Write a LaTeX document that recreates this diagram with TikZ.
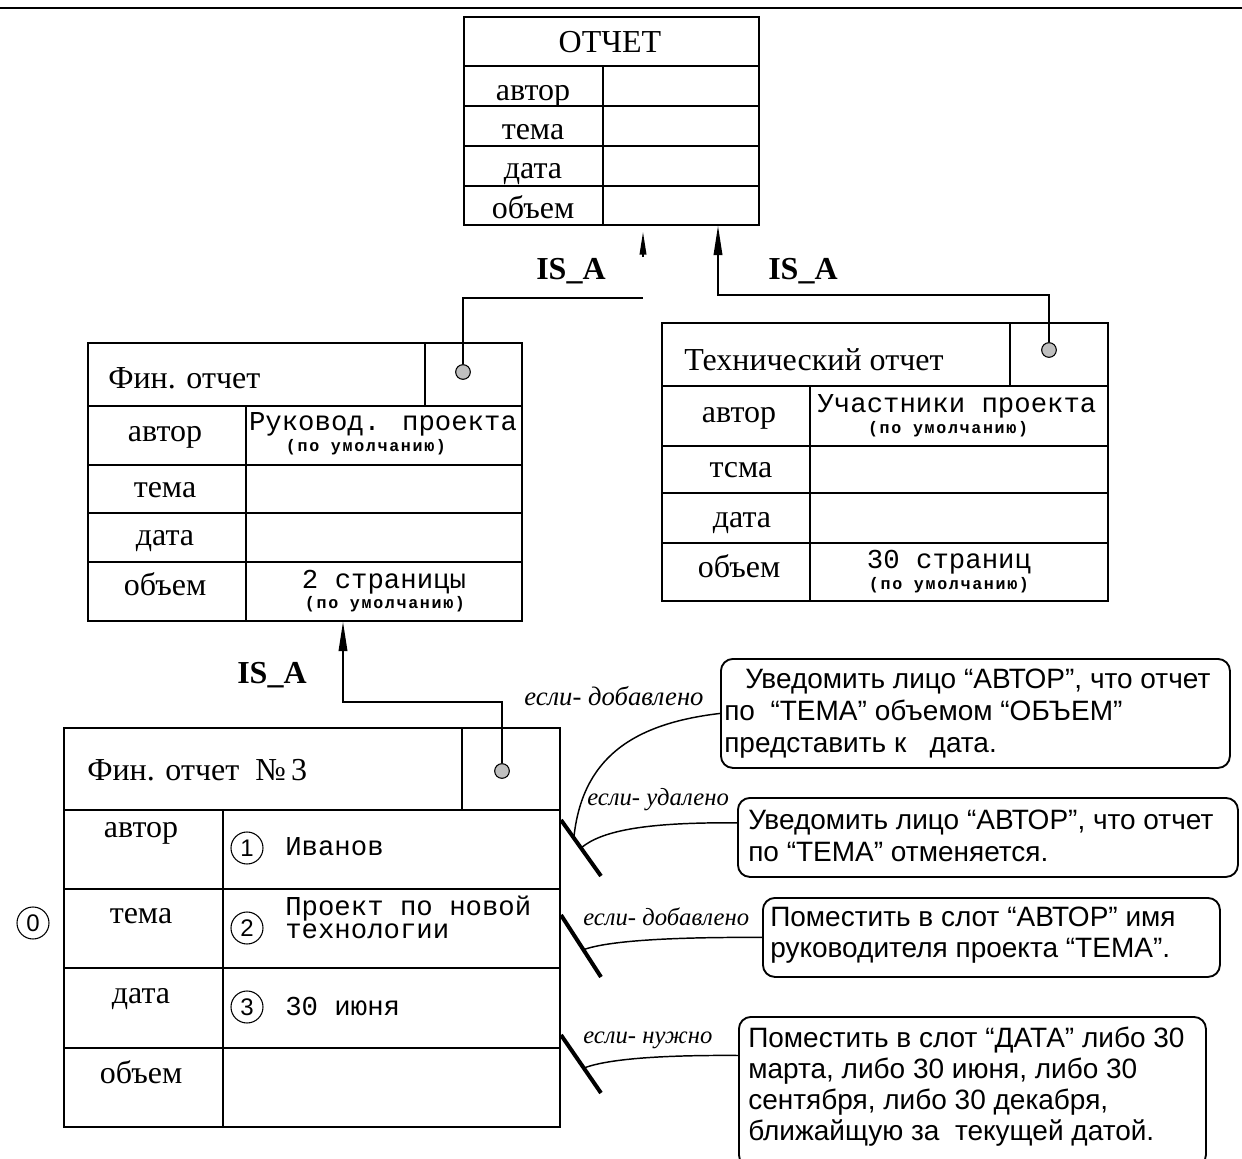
\documentclass[tikz,border=0pt]{standalone}
\usepackage{fontspec}
\setmainfont{Liberation Serif}
\newfontfamily\sansf{Liberation Sans}
\newfontfamily\monof{Liberation Mono}
\newfontfamily\smallmono[LetterSpace=10]{Liberation Mono}
\usetikzlibrary{arrows.meta,calc}
\begin{document}
\begin{tikzpicture}[x=0.75pt,y=-0.75pt,
  frame/.style={draw,line width=1.4pt,inner sep=0pt,anchor=north west},
  grid/.style={line width=1.4pt},
  conn/.style={line width=1.1pt},
  isa/.style={-{Triangle[length=22pt,width=6.5pt]}},
  slashln/.style={line width=3pt},
  ser/.style={font=\fontsize{24}{26}\selectfont,inner sep=0pt,anchor=base},
  serl/.style={font=\fontsize{24}{26}\selectfont,inner sep=0pt,anchor=base west},
  isalbl/.style={font=\bfseries\fontsize{24}{26}\selectfont,inner sep=0pt,anchor=base west},
  mono/.style={font=\monof\fontsize{20.5}{22}\selectfont,inner sep=0pt,anchor=base},
  monol/.style={font=\monof\fontsize{20.5}{17.25}\selectfont,inner sep=0pt,anchor=base west,align=left},
  small/.style={font=\smallmono\bfseries\fontsize{12.5}{13}\selectfont,inner sep=0pt,anchor=base},
  ital/.style={font=\itshape\fontsize{18.5}{20}\selectfont,inner sep=0pt,anchor=base west},
  note/.style={draw,line width=1.4pt,rounded corners=9pt,inner sep=0pt,anchor=north west},
  notetxt/.style={font=\sansf\fontsize{21}{24}\selectfont,inner sep=0pt,anchor=base west},
  num/.style={draw,circle,line width=0.8pt,minimum size=24pt,inner sep=0pt,font=\sansf\fontsize{18}{18}\selectfont},
  dot/.style={draw,circle,fill=gray!50,line width=0.8pt,minimum size=11pt,inner sep=0pt}
]
\useasboundingbox (0,0) rectangle (1242,1159);
\clip (0,0) rectangle (1242,1159);
\fill[white] (0,0) rectangle (1242,1159);
% top rule
\coordinate (topL) at (0,8);
\coordinate (topR) at (1242,8);
\draw[line width=1.6pt] (topL) -- (topR);

% ---------- ОТЧЕТ ----------
\node[frame,minimum width=221.25pt,minimum height=156pt] (otchet) at (463,16) {};
\draw[grid] (463,66) -- (758,66) (463,106) -- (758,106) (463,146) -- (758,146) (463,186) -- (758,186) (603,66) -- (603,224);
\node[ser] (o0) at (610,53) {ОТЧЕТ};
\node[ser] (o1) at (533,101) {автор};
\node[ser] (o2) at (533,140) {тема};
\node[ser] (o3) at (533,179) {дата};
\node[ser] (o4) at (533,219) {объем};

% ---------- Фин. отчет ----------
\node[frame,minimum width=325.5pt,minimum height=208.5pt] (fin) at (87,342) {};
\draw[grid] (87,406) -- (521,406) (87,465) -- (521,465) (87,513) -- (521,513) (87,562) -- (521,562) (425,342) -- (425,406) (246,406) -- (246,620);
\node[serl] (f0) at (108,388) {Фин. отчет};
\node[dot] (fdot) at (463,372) {};
\node[ser] (f1) at (165,441) {автор};
\node[ser] (f2) at (165,497) {тема};
\node[ser] (f3) at (165,545) {дата};
\node[ser] (f4) at (165,595) {объем};
\node[mono] (f1v) at (383,430) {Руковод. проекта};
\node[small] (f1d) at (366,451) {(по умолчанию)};
\node[mono] (f4v) at (384,588) {2 страницы};
\node[small] (f4d) at (385,608) {(по умолчанию)};

% ---------- Технический отчет ----------
\node[frame,minimum width=334.5pt,minimum height=208.5pt] (tech) at (661,322) {};
\draw[grid] (661,386) -- (1107,386) (661,446) -- (1107,446) (661,493) -- (1107,493) (661,543) -- (1107,543) (1010,322) -- (1010,386) (810,386) -- (810,600);
\node[serl] (t0) at (684,370) {Технический отчет};
\node[dot] (tdot) at (1049,350) {};
\node[ser] (t1) at (739,422) {автор};
\node[ser] (t2) at (741,477) {тсма};
\node[ser] (t3) at (742,527) {дата};
\node[ser] (t4) at (739,577) {объем};
\node[mono] (t1v) at (957,412) {Участники проекта};
\node[small] (t1d) at (948,433) {(по умолчанию)};
\node[mono] (t4v) at (949,568) {30 страниц};
\node[small] (t4d) at (949,589) {(по умолчанию)};

% ---------- Фин. отчет № 3 ----------
\node[frame,minimum width=372pt,minimum height=299.25pt] (fin3) at (63,727) {};
\draw[grid] (63,810) -- (559,810) (63,889) -- (559,889) (63,968) -- (559,968) (63,1048) -- (559,1048) (462,727) -- (462,810) (223,810) -- (223,1126);
\node[serl] (g0) at (87,780) {Фин. отчет\ \ №\,3};
\node[dot] (gdot) at (502,771) {};
\node[ser] (g1) at (141,837) {автор};
\node[ser] (g2) at (141,923) {тема};
\node[ser] (g3) at (141,1003) {дата};
\node[ser] (g4) at (141,1083) {объем};
\node[num] (n1) at (247,848) {1};
\node[num] (n2) at (247,928) {2};
\node[num] (n3) at (247,1007) {3};
\node[num] (n0) at (33,923) {0};
\node[monol] (g1v) at (285,855) {Иванов};
\node[monol,anchor=north west] (g2v) at (285,896) {Проект по новой\\технологии};
\node[monol] (g3v) at (285,1015) {30 июня};

% ---------- IS_A connectors ----------
\coordinate (bendL) at (463,298);
\coordinate (gapL) at (643,298);
\coordinate (stubL) at (643,257);
\coordinate (tipL) at (643,232);
\draw[conn] (fdot) -- (bendL) -- (gapL);
\draw[conn,-{Triangle[length=17pt,width=5pt]}] (stubL) -- (tipL);
\coordinate (bendR) at (718,295);
\draw[conn,isa] (tdot) |- (bendR) -- (bendR |- otchet.south);
\coordinate (bendF) at (343,702);
\draw[conn,isa] (gdot) |- (bendF) -- (bendF |- fin.south);
\node[isalbl] (isa1) at (536,279) {IS\_A};
\node[isalbl] (isa2) at (768,279) {IS\_A};
\node[isalbl] (isa3) at (237,683) {IS\_A};

% ---------- notes ----------
\node[note,minimum width=381.75pt,minimum height=81.75pt] (b1) at (720,658) {};
\node[note,minimum width=375pt,minimum height=59.25pt] (b2) at (737,797) {};
\node[note,minimum width=342.75pt,minimum height=59.25pt] (b3) at (762,897) {};
\node[note,minimum width=350.25pt,minimum height=112.5pt] (b4) at (738,1016) {};

\node[notetxt] (b1a) at (745,688) {Уведомить лицо “АВТОР”, что отчет};
\node[notetxt] (b1b) at (724,720) {по\ \ “ТЕМА” объемом “ОБЪЕМ”};
\node[notetxt] (b1c) at (724,752) {представить к\ \ \ дата.};
\node[notetxt] (b2a) at (748,829) {Уведомить лицо “АВТОР”, что отчет};
\node[notetxt] (b2b) at (748,861) {по “ТЕМА” отменяется.};
\node[notetxt] (b3a) at (770,926) {Поместить в слот “АВТОР” имя};
\node[notetxt] (b3b) at (770,957) {руководителя проекта “ТЕМА”.};
\node[notetxt] (b4a) at (748,1047) {Поместить в слот “ДАТА” либо 30};
\node[notetxt] (b4b) at (748,1078) {марта, либо 30 июня, либо 30};
\node[notetxt] (b4c) at (748,1109) {сентября, либо 30 декабря,};
\node[notetxt] (b4d) at (748,1140) {ближайщую за\ \ текущей датой.};

% ---------- slashes and demons ----------
\coordinate (s1a) at (561,820); \coordinate (s1b) at (601,876);
\coordinate (s2a) at (561,915); \coordinate (s2b) at (601,977);
\coordinate (s3a) at (561,1035); \coordinate (s3b) at (601,1093);
\draw[slashln] (s1a) -- (s1b);
\draw[slashln] (s2a) -- (s2b);
\draw[slashln] (s3a) -- (s3b);
\path (s1a) -- (s1b) coordinate[pos=0.32] (c1s) coordinate[pos=0.5] (c2s);
\path (s2a) -- (s2b) coordinate[pos=0.56] (c3s);
\path (s3a) -- (s3b) coordinate[pos=0.57] (c4s);
\coordinate (b2in) at ($(b2.north west)!0.32!(b2.south west)$);
\coordinate (b4in) at ($(b4.north west)!0.26!(b4.south west)$);
\draw[conn] (c1s) .. controls (582,760) and (630,724) .. (b1.west);
\draw[conn] (c2s) .. controls (600,832) and (640,822) .. (b2in);
\draw[conn] (c3s) .. controls (610,940) and (680,937) .. (b3.west);
\draw[conn] (c4s) .. controls (610,1058) and (670,1055) .. (b4in);
\node[ital,font=\itshape\fontsize{20}{21}\selectfont] (e1) at (524,705) {если- добавлено};
\node[ital] (e2) at (587,805) {если- удалено};
\node[ital] (e3) at (583,925) {если- добавлено};
\node[ital] (e4) at (583,1043) {если- нужно};
\end{tikzpicture}
\end{document}
